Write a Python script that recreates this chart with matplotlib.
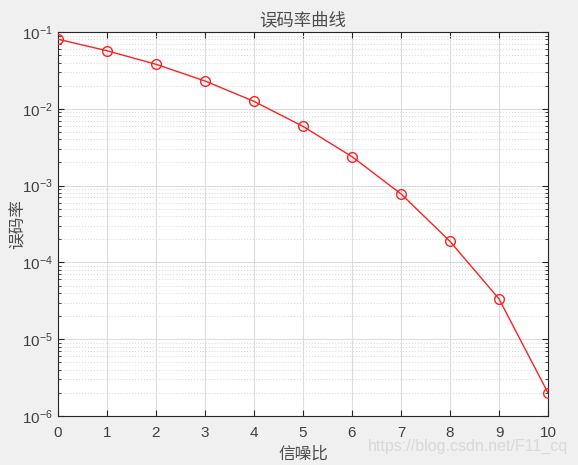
import matplotlib
matplotlib.use("Agg")
import matplotlib.pyplot as plt
import numpy as np
from matplotlib.ticker import LogLocator, FixedLocator, NullFormatter

plt.rcParams['font.family'] = ['Liberation Sans', 'Noto Sans CJK SC', 'DejaVu Sans']

# signal-to-noise ratio (dB) and measured bit error rate
snr_db = [0, 1, 2, 3, 4, 5, 6, 7, 8, 9, 10]
ber = [0.0805, 0.0570, 0.0380, 0.0230, 0.0125, 0.00590, 0.00238, 0.00078, 0.000188, 3.35e-5, 2.0e-6]

x_ticks = [0, 1, 2, 3, 4, 5, 6, 7, 8, 9, 10]

axis_color = "#262626"
text_color = "#404040"
bg = "#f0f0f0"

fig = plt.figure(figsize=(5.78, 4.65), dpi=100, facecolor=bg)
ax = fig.add_axes([58 / 578, 49 / 465, 490 / 578, 384 / 465])

ax.semilogy(snr_db, ber, color="#ff2020", linewidth=1.0, marker="o",
            markersize=7, markerfacecolor="none", markeredgewidth=1.0, zorder=3)

ax.set_xlim(0, 10)
ax.set_ylim(1e-6, 1e-1)
ax.xaxis.set_major_locator(FixedLocator(x_ticks))
ax.yaxis.set_major_locator(LogLocator(base=10, numticks=10))
ax.yaxis.set_minor_locator(LogLocator(base=10, subs=np.arange(2, 10), numticks=20))
ax.yaxis.set_minor_formatter(NullFormatter())

ax.grid(True, which="major", color="#dcdcdc", linestyle="-", linewidth=0.8)
ax.grid(True, which="minor", axis="y", color="#dcdcdc", linestyle=":", linewidth=0.8)
ax.set_axisbelow(True)

ax.tick_params(which="both", direction="in", top=True, right=True, colors=axis_color,
               labelsize=11, labelcolor=text_color)
ax.tick_params(which="major", length=4, width=0.8)
ax.tick_params(axis="x", which="major", pad=7)
ax.tick_params(which="minor", length=2.5, width=0.6)
for sp in ax.spines.values():
    sp.set_color(axis_color)
    sp.set_linewidth(0.8)

cjk = ["Noto Sans CJK SC"]
ax.set_title("误码率曲线", fontsize=12.5, color="#4d4d4d", family=cjk, pad=5)
ax.set_xlabel("信噪比", fontsize=12, color="#4d4d4d", family=cjk, labelpad=4)
ax.set_ylabel("误码率", fontsize=12, color="#4d4d4d", family=cjk, labelpad=-3)

fig.text(0.983, 0.039, "https://blog.csdn.net/F11_cq", ha="right", va="center",
         fontsize=11.5, color="#d9d9d9")

fig.savefig("out.png", dpi=100, facecolor=bg)
